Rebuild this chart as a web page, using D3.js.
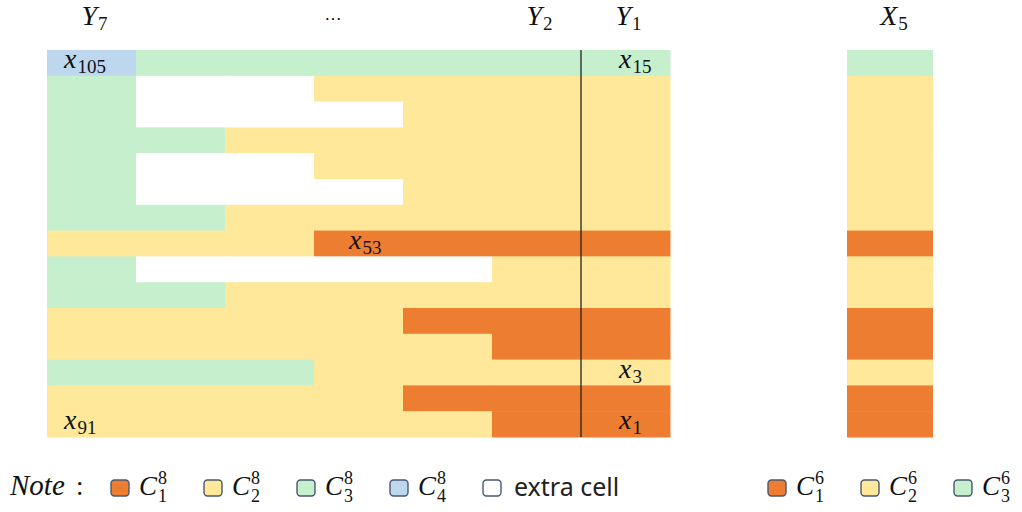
<!DOCTYPE html>
<html>
<head>
<meta charset="utf-8">
<script src="https://cdn.jsdelivr.net/npm/d3@7"></script>
<style>
  body { margin: 0; background: #fff; }
  svg { display: block; }
</style>
</head>
<body>
<div class="div_chart"></div>
<script>
// columns of the big table, left to right
const columns = ['Y7', 'Y6', 'Y5', 'Y4', 'Y3', 'Y2', 'Y1'];
// class of each cell per row (1..4 = C1..C4 of 8 classes, 0 = extra cell)
const cellClasses = [
  [4, 3, 3, 3, 3, 3, 3],
  [3, 0, 0, 2, 2, 2, 2],
  [3, 0, 0, 0, 2, 2, 2],
  [3, 3, 2, 2, 2, 2, 2],
  [3, 0, 0, 2, 2, 2, 2],
  [3, 0, 0, 0, 2, 2, 2],
  [3, 3, 2, 2, 2, 2, 2],
  [2, 2, 2, 1, 1, 1, 1],
  [3, 0, 0, 0, 0, 2, 2],
  [3, 3, 2, 2, 2, 2, 2],
  [2, 2, 2, 2, 1, 1, 1],
  [2, 2, 2, 2, 2, 1, 1],
  [3, 3, 3, 2, 2, 2, 2],
  [2, 2, 2, 2, 1, 1, 1],
  [2, 2, 2, 2, 2, 1, 1]
];
// X5 column, classes of 6
const x5Classes = [3, 2, 2, 2, 2, 2, 2, 1, 2, 2, 1, 1, 2, 1, 1];
// object labels written in cells
const cellLabels = [
  { row: 0, col: 'Y7', sub: '105' },
  { row: 0, col: 'Y1', sub: '15' },
  { row: 7, col: 'Y4', sub: '53' },
  { row: 12, col: 'Y1', sub: '3' },
  { row: 14, col: 'Y7', sub: '91' },
  { row: 14, col: 'Y1', sub: '1' }
];
const headers = [
  { col: 'Y7', base: 'Y', sub: '7' },
  { col: 'Y2', base: 'Y', sub: '2' },
  { col: 'Y1', base: 'Y', sub: '1' }
];
const legend8 = [
  { cls: 1, sub: '1', sup: '8' },
  { cls: 2, sub: '2', sup: '8' },
  { cls: 3, sub: '3', sup: '8' },
  { cls: 4, sub: '4', sup: '8' },
  { cls: 0, text: 'extra cell' }
];
const legend6 = [
  { cls: 1, sub: '1', sup: '6' },
  { cls: 2, sub: '2', sup: '6' },
  { cls: 3, sub: '3', sup: '6' }
];

const width = 1022;
const height = 512;
const mathFont = '"Liberation Serif", "DejaVu Serif", serif';

const svg = d3
  .select('.div_chart')
  .append('svg')
  .attr('width', width)
  .attr('height', height);

const color = d3
  .scaleOrdinal()
  .domain([1, 2, 3, 4, 0])
  .range(['#ED7D31', '#FFE899', '#C6EFCE', '#BDD7EE', '#FFFFFF']);

const x = d3.scaleBand().domain(columns).range([47, 670]);
const y = d3.scaleBand().domain(d3.range(cellClasses.length)).range([50, 437]);
const x5 = d3.scaleBand().domain(['X5']).range([847, 933]);

// big table
const cells = cellClasses.flatMap((r, i) => r.map((c, j) => ({ row: i, col: columns[j], cls: c })));
svg
  .append('g')
  .selectAll('rect')
  .data(cells)
  .enter()
  .append('rect')
  .attr('x', (d) => x(d.col))
  .attr('y', (d) => y(d.row))
  .attr('width', x.bandwidth() + 0.5)
  .attr('height', y.bandwidth() + 0.5)
  .attr('fill', (d) => color(d.cls));

// Y2 | Y1 divider
svg
  .append('line')
  .attr('x1', x('Y1'))
  .attr('x2', x('Y1'))
  .attr('y1', y(0))
  .attr('y2', y(cellClasses.length - 1) + y.bandwidth())
  .attr('stroke', '#222')
  .attr('stroke-width', 1.3);

// X5 column
svg
  .append('g')
  .selectAll('rect')
  .data(x5Classes)
  .enter()
  .append('rect')
  .attr('x', x5('X5'))
  .attr('y', (d, i) => y(i))
  .attr('width', x5.bandwidth())
  .attr('height', y.bandwidth() + 0.5)
  .attr('fill', (d) => color(d));

// math text helper: italic base letter + upright subscript
const mathText = (g, base, sub, px, py, anchor) => {
  const t = g
    .append('text')
    .attr('x', px)
    .attr('y', py)
    .attr('text-anchor', anchor || 'start')
    .attr('font-family', mathFont)
    .attr('font-size', '28px')
    .attr('fill', '#111');
  t.append('tspan').attr('font-style', 'italic').text(base);
  t.append('tspan').attr('font-size', '19px').attr('dy', 5).attr('dx', 1).text(sub);
  return t;
};

// headers
headers.forEach((h) => mathText(svg, h.base, h.sub, x(h.col) + x.bandwidth() / 2 + 3, 25, 'middle'));
mathText(svg, 'X', '5', x5('X5') + x5.bandwidth() / 2 + 4, 25, 'middle');
svg
  .append('text')
  .attr('x', x('Y4') + 19)
  .attr('y', 20)
  .attr('text-anchor', 'middle')
  .attr('font-family', mathFont)
  .attr('font-size', '17px')
  .text('\u2026');

// cell labels
const labelOffset = { Y7: 17, Y4: 35, Y1: 38 };
cellLabels.forEach((l) =>
  mathText(svg, 'x', l.sub, x(l.col) + labelOffset[l.col], y(l.row) + y.bandwidth() / 2 + 5, 'start')
);

// legend
const legendY = 480;
svg
  .append('text')
  .attr('x', 10)
  .attr('y', 495)
  .attr('font-family', mathFont)
  .attr('font-style', 'italic')
  .attr('font-size', '29px')
  .attr('fill', '#111')
  .text('Note');
svg
  .append('text')
  .attr('x', 76)
  .attr('y', 495)
  .attr('font-family', mathFont)
  .attr('font-size', '27px')
  .attr('fill', '#111')
  .text(':');

const drawLegend = (items, x0, step) => {
  items.forEach((d, i) => {
    const lx = x0 + i * step;
    svg
      .append('rect')
      .attr('x', lx)
      .attr('y', legendY)
      .attr('width', 18)
      .attr('height', 16)
      .attr('rx', 3.5)
      .attr('fill', color(d.cls))
      .attr('stroke', '#4A5870')
      .attr('stroke-width', 1.4);
    if (d.text) {
      svg
        .append('text')
        .attr('x', lx + 31)
        .attr('y', 496)
        .attr('font-family', '"Noto Sans", "Open Sans", sans-serif')
        .attr('font-size', '25px')
        .attr('fill', '#222')
        .text(d.text);
    } else {
      const tx = lx + 28;
      svg
        .append('text')
        .attr('x', tx)
        .attr('y', 495)
        .attr('font-family', mathFont)
        .attr('font-style', 'italic')
        .attr('font-size', '27px')
        .attr('fill', '#111')
        .text('C');
      svg
        .append('text')
        .attr('x', tx + 19)
        .attr('y', 484)
        .attr('font-family', mathFont)
        .attr('font-size', '18px')
        .attr('fill', '#111')
        .text(d.sup);
      svg
        .append('text')
        .attr('x', tx + 19)
        .attr('y', 502)
        .attr('font-family', mathFont)
        .attr('font-size', '18px')
        .attr('fill', '#111')
        .text(d.sub);
    }
  });
};
drawLegend(legend8, 111, 93);
drawLegend(legend6, 768, 93);
</script>
</body>
</html>
